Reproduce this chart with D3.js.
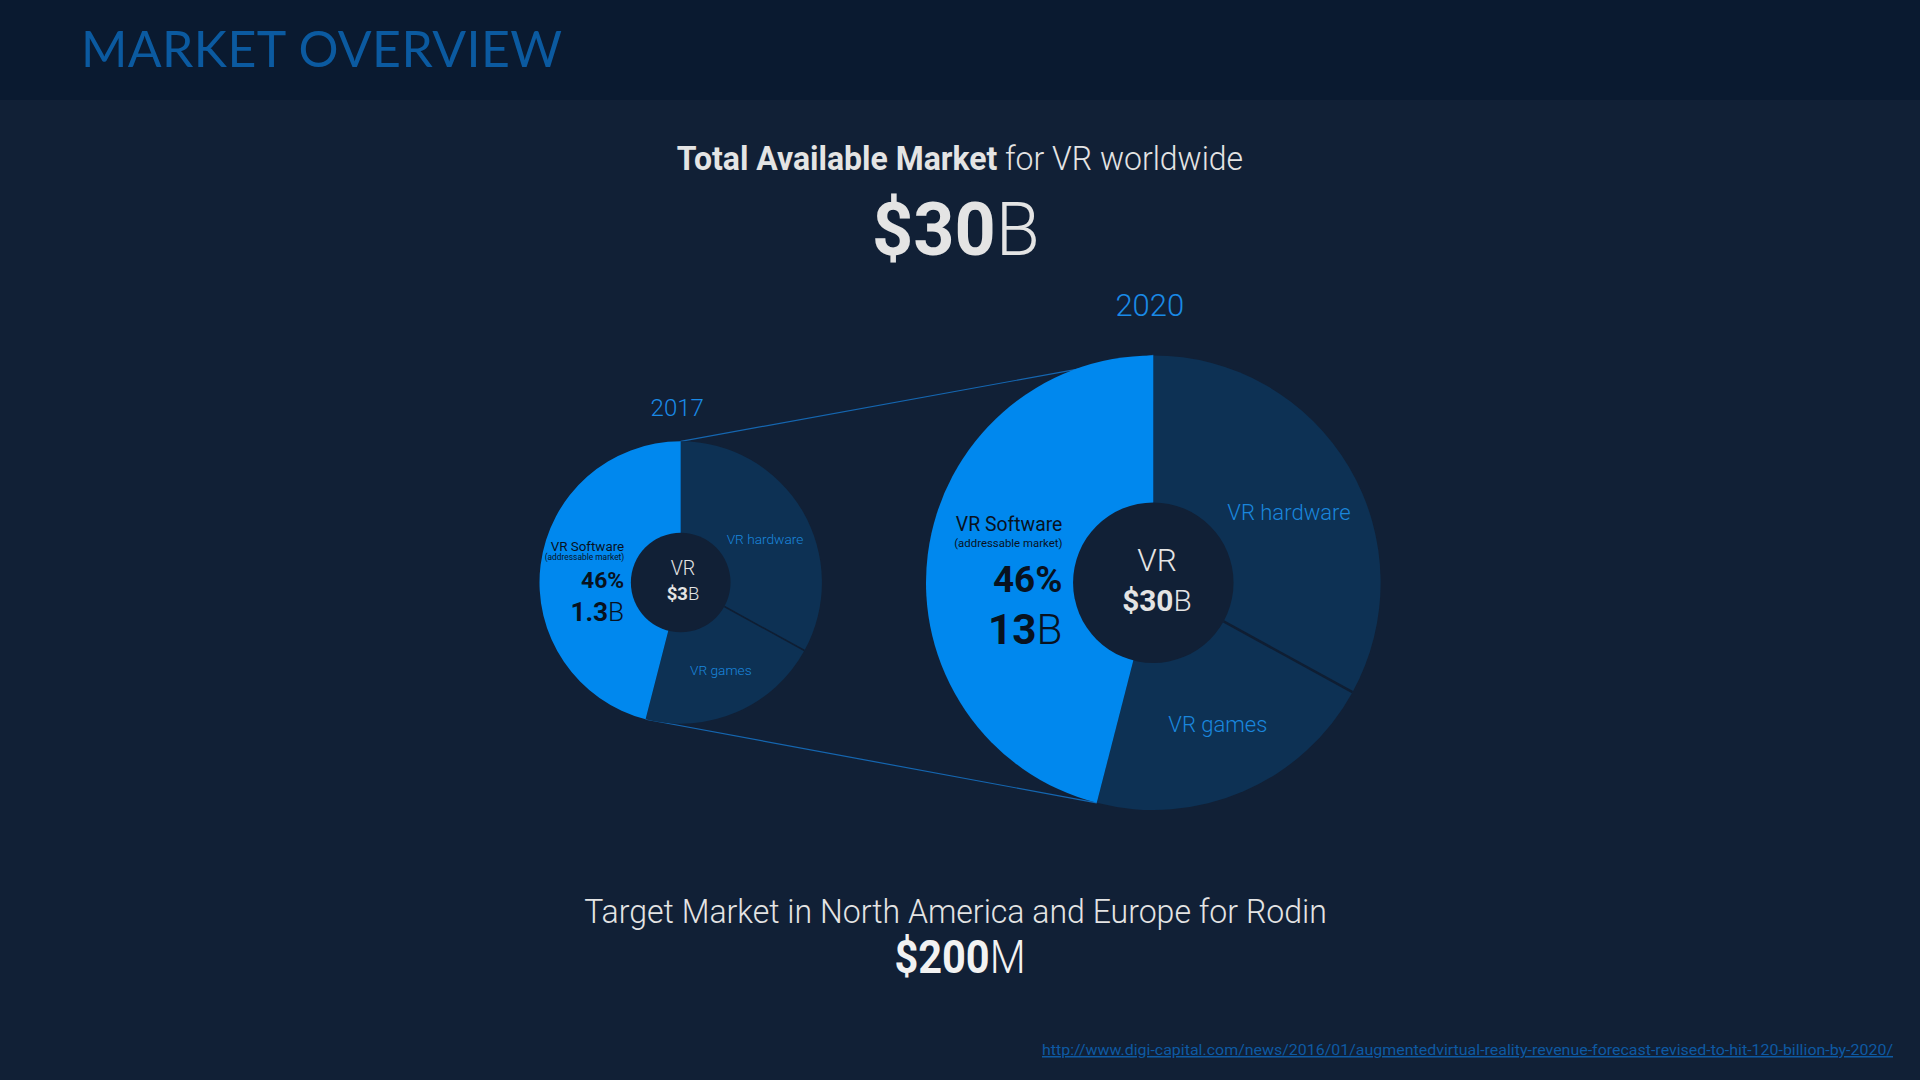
<!DOCTYPE html>
<html>
<head>
<meta charset="utf-8">
<script src="https://cdn.jsdelivr.net/npm/d3@7"></script>
<style>
  html, body { margin: 0; padding: 0; background: #112036; }
  svg { display: block; }
</style>
</head>
<body>
<svg id="chart" width="1920" height="1080"></svg>
<script>
// ---- Data ----
const years = ["2017", "2020"];
const marketTotals = [3, 30];              // $B, total VR market
const segments = ["VR hardware", "VR games", "VR Software"];
const segmentShares = [33, 21, 46];        // % of market
const softwareValues = ["1.3", "13"];      // $B, VR software (addressable)
const headline = { total: "30", unit: "B" };
const target = { value: "200", unit: "M" };
const sourceUrl = "http://www.digi-capital.com/news/2016/01/augmentedvirtual-reality-revenue-forecast-revised-to-hit-120-billion-by-2020/";

// ---- Layout ----
const W = 1920, H = 1080;
const C = {
  bg: "#112036", header: "#0a1a30", title: "#0b5aa0",
  soft: "#0088ee", dark: "#0d3154", text: "#e4e4e4",
  year: "#1a8ae6", label: "#1a86dc", ink: "#08121f", link: "#0e5aa3"
};
const pies = [
  { cx: 680.7, cy: 582.5, r: 141.2, yearSize: 24, yearGap: 25.5, swSize: 13.4, addrSize: 8.4 },
  { cx: 1153.3, cy: 582.7, r: 227.3, yearSize: 31, yearGap: 39.8, swSize: 19.4, addrSize: 11.4 }
];
const FONT = "Roboto, 'Open Sans', sans-serif";

const svg = d3.select("#chart");
svg.append("rect").attr("width", W).attr("height", H).attr("fill", C.bg);
svg.append("rect").attr("width", W).attr("height", 100).attr("fill", C.header);

svg.append("text").attr("x", 81).attr("y", 67)
  .attr("font-family", "Lato, sans-serif").attr("font-size", 50)
  .attr("textLength", 481).attr("lengthAdjust", "spacing")
  .attr("fill", C.title).text("MARKET OVERVIEW");

// Headline (slightly condensed, as in the original)
const t1 = svg.append("g").attr("transform", "translate(960,170) scale(0.94,1)")
  .append("text").attr("text-anchor", "middle")
  .attr("font-family", FONT).attr("font-size", 34).attr("fill", C.text);
t1.append("tspan").attr("font-weight", 700).text("Total Available Market");
t1.append("tspan").attr("font-weight", 300).text(" for VR worldwide");

const t2 = svg.append("g").attr("transform", "translate(956,255) scale(0.972,1)")
  .append("text").attr("text-anchor", "middle")
  .attr("font-family", FONT).attr("font-size", 74).attr("fill", C.text);
t2.append("tspan").attr("font-weight", 700).text("$" + headline.total);
t2.append("tspan").attr("font-weight", 300).text(headline.unit);

// Pie geometry
const pie = d3.pie().sort(null).value(d => d)(segmentShares);
const softArc = pie[2];

// Connector lines (behind pies)
const P = (p, a, rr) => [p.cx + rr * Math.sin(a), p.cy - rr * Math.cos(a)];
const conn = svg.append("g").attr("stroke", "#1566b0").attr("stroke-width", 1.2).attr("fill", "none");
const topA = P(pies[0], 0, pies[0].r), topB = P(pies[1], 0, pies[1].r);
conn.append("line").attr("x1", topA[0]).attr("y1", topA[1]).attr("x2", topB[0]).attr("y2", topB[1]);
const botA = P(pies[0], softArc.startAngle, pies[0].r), botB = P(pies[1], softArc.startAngle, pies[1].r);
conn.append("line").attr("x1", botA[0]).attr("y1", botA[1]).attr("x2", botB[0]).attr("y2", botB[1]);

pies.forEach((p, i) => {
  const r = p.r, ri = r * 0.353;
  const g = svg.append("g").attr("transform", `translate(${p.cx},${p.cy})`);
  const arc = d3.arc().innerRadius(0).outerRadius(r);
  g.selectAll("path").data(pie).join("path")
    .attr("d", arc)
    .attr("fill", (d, k) => k === 2 ? C.soft : C.dark);
  // separator between hardware and games
  const a = pie[0].endAngle;
  g.append("line")
    .attr("x1", ri * Math.sin(a)).attr("y1", -ri * Math.cos(a))
    .attr("x2", r * Math.sin(a)).attr("y2", -r * Math.cos(a))
    .attr("stroke", "#0f1e33").attr("stroke-width", r * 0.011);
  // inner circle
  g.append("circle").attr("r", ri).attr("fill", C.bg);

  // year
  g.append("text").attr("x", -3.5).attr("y", -r - p.yearGap).attr("text-anchor", "middle")
    .attr("font-family", FONT).attr("font-weight", 300).attr("font-size", p.yearSize)
    .attr("fill", C.year).text(years[i]);

  // segment labels
  g.append("text").attr("x", r * 0.597).attr("y", -r * 0.275).attr("text-anchor", "middle")
    .attr("font-family", FONT).attr("font-weight", 300).attr("font-size", r * 0.097)
    .attr("fill", C.label).text(segments[0]);
  g.append("text").attr("x", r * 0.284).attr("y", r * 0.656).attr("text-anchor", "middle")
    .attr("font-family", FONT).attr("font-weight", 300).attr("font-size", r * 0.097)
    .attr("fill", C.label).text(segments[1]);

  const sx = -r * 0.40;
  g.append("text").attr("x", sx).attr("y", -r * 0.226).attr("text-anchor", "end")
    .attr("font-family", FONT).attr("font-weight", 400).attr("font-size", p.swSize)
    .attr("fill", C.ink).text(segments[2]);
  g.append("text").attr("x", sx).attr("y", -r * 0.157).attr("text-anchor", "end")
    .attr("font-family", FONT).attr("font-weight", 400).attr("font-size", p.addrSize)
    .attr("fill", C.ink).text("(addressable market)");
  g.append("text").attr("x", sx).attr("y", r * 0.04).attr("text-anchor", "end")
    .attr("font-family", FONT).attr("font-weight", 700).attr("font-size", r * 0.162)
    .attr("fill", C.ink).text(segmentShares[2] + "%");
  const v = g.append("text").attr("x", sx).attr("y", r * 0.27).attr("text-anchor", "end")
    .attr("font-family", FONT).attr("font-size", r * 0.186).attr("fill", C.ink);
  v.append("tspan").attr("font-weight", 700).text(softwareValues[i]);
  v.append("tspan").attr("font-weight", 300).text("B");

  // center labels
  g.append("text").attr("x", r * 0.016).attr("y", -r * 0.05).attr("text-anchor", "middle")
    .attr("font-family", FONT).attr("font-weight", 300).attr("font-size", r * 0.139)
    .attr("fill", C.text).text("VR");
  const c = g.append("text").attr("x", r * 0.016).attr("y", r * 0.124).attr("text-anchor", "middle")
    .attr("font-family", FONT).attr("font-size", r * 0.131).attr("fill", C.text);
  c.append("tspan").attr("font-weight", 700).text("$" + marketTotals[i]);
  c.append("tspan").attr("font-weight", 300).text("B");
});

// Bottom
svg.append("g").attr("transform", "translate(955.5,923) scale(0.942,1)")
  .append("text").attr("text-anchor", "middle")
  .attr("font-family", FONT).attr("font-weight", 300).attr("font-size", 34)
  .attr("fill", C.text).text("Target Market in North America and Europe for Rodin");
const b = svg.append("g").attr("transform", "translate(960,973) scale(0.903,1)")
  .append("text").attr("text-anchor", "middle")
  .attr("font-family", FONT).attr("font-size", 46).attr("fill", "#f2f2f2");
b.append("tspan").attr("font-weight", 700).text("$" + target.value);
b.append("tspan").attr("font-weight", 300).text(target.unit);

svg.append("text").attr("x", 1042).attr("y", 1055)
  .attr("font-family", FONT).attr("font-size", 15).attr("fill", C.link)
  .attr("text-decoration", "underline")
  .attr("textLength", 851).attr("lengthAdjust", "spacingAndGlyphs")
  .text(sourceUrl);
</script>
</body>
</html>
